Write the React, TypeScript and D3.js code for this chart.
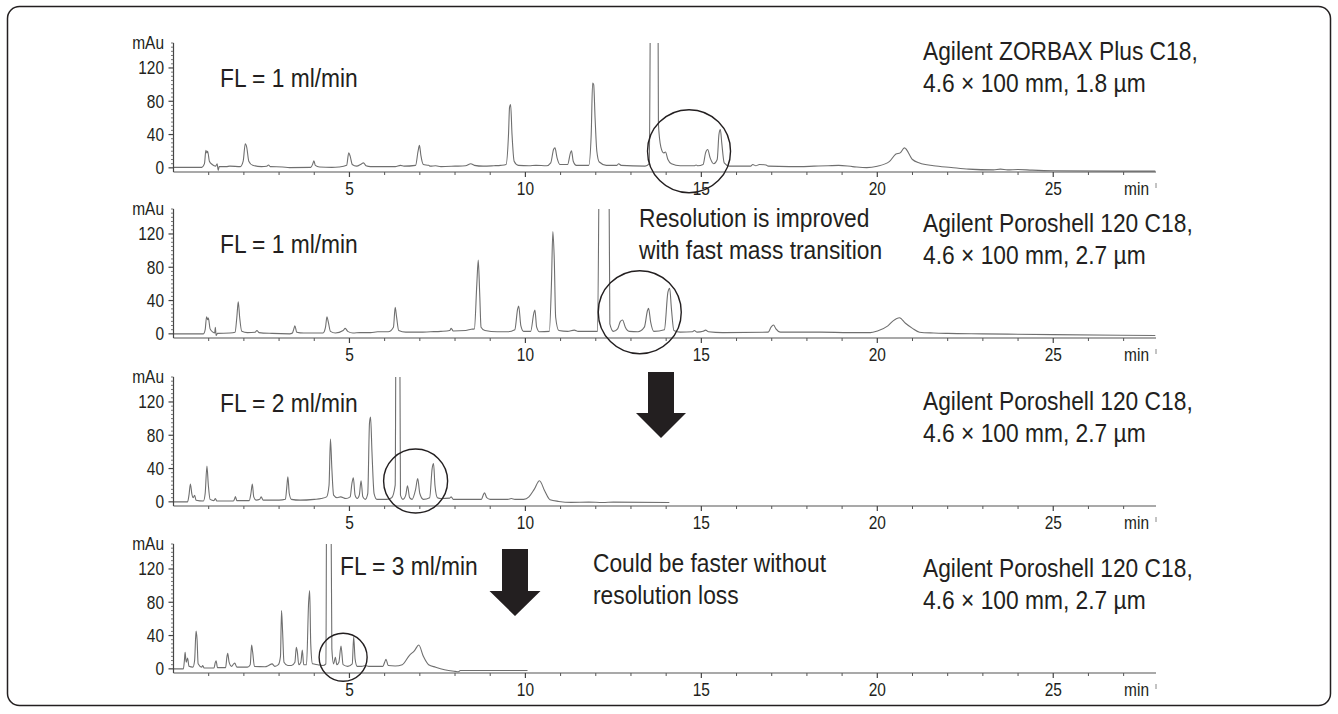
import React from 'react';
import * as d3 from 'd3';

// chromatogram traces, [time (min), signal (mAu)]
const trace1: [number, number][] = [
  [0, 0.5], [0.8, 0.5], [0.88, 5], [0.92, 21], [0.95, 18], [0.97, 20], [1.02, 8], [1.1, 4], [1.2, 2],
  [1.24, 5], [1.27, -3], [1.3, 1.5], [1.5, 1.5], [1.6, 2], [1.9, 1.5], [1.98, 8], [2.04, 29], [2.08, 25],
  [2.14, 8], [2.25, 3], [2.5, 1.5], [2.65, 2], [2.7, 3.5], [2.75, 1.5], [3.1, 1], [3.3, 0.3], [3.9, 0.5],
  [3.96, 5], [3.99, 8.5], [4.03, 3], [4.15, 1], [4.5, 0.5], [4.7, 1], [4.92, 3], [4.98, 18], [5.02, 14],
  [5.08, 4], [5.2, 2], [5.35, 5], [5.4, 6], [5.47, 2.5], [5.6, 1.5], [6.3, 1.5], [6.45, 3], [6.55, 2],
  [6.88, 3], [6.95, 20], [6.99, 27], [7.03, 15], [7.1, 4], [7.25, 3], [7.3, 2], [7.45, 2.5], [7.6, 1.5],
  [8.0, 2], [8.3, 2.5], [8.45, 5], [8.55, 3], [8.8, 2], [9.1, 2.5], [9.3, 3], [9.45, 4], [9.52, 40],
  [9.55, 73], [9.58, 76], [9.62, 40], [9.68, 8], [9.8, 3], [10.1, 2.5], [10.3, 3], [10.6, 2.5], [10.72, 6],
  [10.8, 22], [10.84, 24], [10.9, 12], [10.98, 4], [11.2, 4], [11.28, 18], [11.31, 20.5], [11.36, 8],
  [11.45, 3], [11.8, 3], [11.87, 40], [11.91, 102], [11.94, 100], [11.98, 60], [12.03, 20], [12.1, 7],
  [12.3, 3], [12.6, 3], [12.65, 5], [12.72, 3], [13.4, 2], [13.52, 5], [13.57, 300], [13.76, 300],
  [13.78, 53], [13.85, 25], [13.93, 18], [13.98, 19], [14.05, 10], [14.15, 5], [14.4, 2.5], [14.8, 2.5],
  [14.85, 3.5], [14.9, 2.5], [15.05, 4], [15.12, 18], [15.18, 22], [15.25, 12], [15.35, 5], [15.45, 10],
  [15.5, 40], [15.54, 46], [15.58, 30], [15.65, 6], [15.8, 2], [16.4, 2], [16.46, 4], [16.55, 2.5],
  [16.65, 4], [16.84, 3.5], [16.9, 2], [17.5, 1.5], [17.8, 1.5], [18.2, 2], [18.6, 2.5], [18.9, 3],
  [19.3, 1.5], [19.7, 0.3], [20.0, 2], [20.34, 7.4], [20.53, 16.6], [20.65, 18], [20.77, 24], [21.0, 10],
  [21.2, 5.8], [21.6, 2.6], [22.1, 0.5], [22.6, -1.5], [23.3, -2.5], [23.5, -1.5], [23.7, -2.5], [24.0, -2],
  [24.4, -2.8], [25.0, -3.5], [27.9, -4],
];

const trace2: [number, number][] = [
  [0, 0], [0.85, 0], [0.9, 5], [0.94, 20.6], [0.97, 17], [0.99, 19], [1.04, 6], [1.12, 2], [1.17, 1],
  [1.19, 8], [1.21, -2], [1.25, 0.5], [1.6, 1], [1.75, 2], [1.8, 20], [1.84, 38.6], [1.88, 20], [1.94, 3],
  [2.1, 1.5], [2.32, 2], [2.37, 4], [2.43, 1.5], [2.8, 0.5], [3.3, 0], [3.38, 1], [3.42, 6], [3.45, 9.8],
  [3.5, 2], [3.7, 1], [4.25, 1], [4.32, 8], [4.36, 20.6], [4.4, 14], [4.46, 3], [4.6, 1], [4.82, 4],
  [4.88, 6.6], [4.95, 3], [5.1, 1], [5.3, 1.5], [5.6, 1.5], [5.8, 2.5], [6.1, 2.5], [6.25, 8], [6.3, 31.8],
  [6.34, 20], [6.4, 4], [6.6, 2], [7.0, 2], [7.3, 2.5], [7.6, 3], [7.85, 4], [7.89, 6.6], [7.95, 3.5],
  [8.3, 4], [8.46, 5.5], [8.55, 6], [8.62, 60], [8.66, 88.7], [8.7, 50], [8.74, 8], [8.85, 4], [9.2, 2.5],
  [9.5, 2.5], [9.7, 5], [9.78, 30], [9.81, 33.4], [9.87, 10], [9.95, 3], [10.15, 3], [10.24, 25],
  [10.27, 28.6], [10.32, 8], [10.4, 2.5], [10.68, 3], [10.74, 60], [10.78, 122.8], [10.82, 90], [10.86, 20],
  [10.95, 4], [11.2, 3], [11.39, 4.5], [11.5, 3], [12.05, 3], [12.12, 300], [12.36, 300], [12.4, 12],
  [12.5, 3], [12.62, 6], [12.7, 15], [12.76, 16.6], [12.84, 8], [12.95, 3], [13.2, 2.5], [13.38, 8],
  [13.47, 28], [13.5, 30.6], [13.56, 14], [13.65, 3], [13.95, 5], [14.05, 50], [14.1, 54.7], [14.15, 30],
  [14.22, 4], [14.4, 2], [14.75, 2.5], [14.8, 4], [14.88, 2], [15.05, 3], [15.12, 4.5], [15.2, 2.5],
  [15.6, 1.5], [16.9, 2], [16.98, 8], [17.05, 10.6], [17.12, 6], [17.25, 2], [17.6, 2], [18.4, 2],
  [19.2, 1.5], [19.8, 1.5], [20.0, 3.5], [20.3, 9.5], [20.45, 15.6], [20.63, 19.4], [20.8, 12.7],
  [21.0, 6.6], [21.2, 2], [21.6, 1], [22.0, 0.5], [23.0, 0], [25.0, -1], [27.9, -2],
];

const trace3: [number, number][] = [
  [0, 0], [0.4, 0], [0.44, 8], [0.48, 21.4], [0.52, 10], [0.56, 5], [0.6, 8], [0.64, 2], [0.85, 1],
  [0.9, 10], [0.95, 43], [0.99, 20], [1.04, 3], [1.15, 1.5], [1.19, 4], [1.23, 1], [1.7, 1], [1.74, 4],
  [1.76, 6.5], [1.8, 1.5], [2.15, 1.5], [2.2, 10], [2.24, 21.4], [2.28, 6], [2.35, 2], [2.45, 3],
  [2.49, 6], [2.55, 2], [3.0, 2], [3.18, 3], [3.22, 18], [3.25, 30], [3.29, 10], [3.35, 3], [3.6, 2],
  [4.0, 3], [4.2, 4], [4.35, 6], [4.42, 20], [4.46, 75.5], [4.5, 40], [4.55, 8], [4.65, 5], [4.75, 6],
  [4.9, 4], [5.02, 6], [5.07, 22], [5.11, 29], [5.16, 8], [5.22, 4], [5.28, 8], [5.33, 25.4], [5.38, 6],
  [5.45, 3], [5.52, 10], [5.57, 95], [5.6, 102], [5.64, 60], [5.7, 10], [5.78, 3], [6.05, 3], [6.2, 5],
  [6.3, 20], [6.33, 300], [6.42, 300], [6.45, 8], [6.52, 3], [6.6, 8], [6.65, 19.4], [6.71, 5], [6.78, 3],
  [6.88, 15], [6.94, 28], [7.0, 10], [7.1, 3], [7.28, 5], [7.35, 40], [7.39, 46], [7.43, 20], [7.5, 5],
  [7.6, 4], [7.85, 4.5], [7.89, 6], [7.95, 3], [8.5, 3], [8.75, 3], [8.8, 8], [8.84, 11], [8.9, 5],
  [9.0, 3], [9.5, 3], [9.6, 4], [9.7, 3], [9.95, 3], [10.1, 6], [10.25, 15], [10.4, 25.4], [10.55, 13],
  [10.7, 2.6], [10.95, 0.5], [11.3, -0.6], [11.8, -0.3], [12.2, -0.8], [12.5, -0.3], [14.09, -0.8],
];

const trace4: [number, number][] = [
  [0, 0], [0.28, 0], [0.31, 10], [0.33, 19.8], [0.36, 8], [0.4, 13], [0.44, 3], [0.55, 2], [0.6, 10],
  [0.64, 45.4], [0.67, 35], [0.7, 6], [0.8, 2], [0.83, 4], [0.87, 1], [1.15, 1], [1.19, 8], [1.21, 9.8],
  [1.25, 1.5], [1.48, 1.5], [1.52, 15], [1.54, 18.6], [1.58, 8], [1.65, 3], [1.71, 6], [1.74, 7],
  [1.8, 2], [2.1, 2], [2.18, 5], [2.22, 28.6], [2.25, 20], [2.3, 3], [2.6, 2.6], [2.7, 4], [2.8, 6],
  [2.88, 3], [2.98, 5], [3.04, 15], [3.07, 70], [3.1, 45], [3.14, 8], [3.25, 4], [3.35, 4], [3.45, 8],
  [3.49, 25.8], [3.52, 20], [3.56, 5], [3.62, 8], [3.66, 22.6], [3.7, 5], [3.78, 5], [3.84, 80],
  [3.87, 94], [3.9, 30], [3.95, 6], [4.1, 5], [4.25, 4], [4.33, 6], [4.36, 300], [4.46, 300], [4.5, 24],
  [4.55, 6], [4.6, 14], [4.64, 5], [4.7, 8], [4.76, 27.4], [4.82, 5], [4.95, 3], [5.08, 6], [5.12, 38.6],
  [5.16, 12], [5.22, 3], [5.35, 3], [5.45, 4], [5.55, 3], [5.95, 3], [6.0, 8], [6.04, 11.4], [6.1, 4],
  [6.3, 3.5], [6.5, 5], [6.7, 16], [6.85, 22], [6.97, 28.6], [7.1, 15], [7.25, 5], [7.45, 2], [7.7, -1],
  [8.0, -3], [8.1, -3.5], [8.15, -2], [10.06, -2],
];

const traces = [trace1, trace2, trace3, trace4];

const timeTicks = [5, 10, 15, 20, 25];
const mauTicks = [0, 40, 80, 120];

const flowLabels = ['FL = 1 ml/min', 'FL = 1 ml/min', 'FL = 2 ml/min', 'FL = 3 ml/min'];
const columnLabels = [
  ['Agilent ZORBAX Plus C18,', '4.6 × 100 mm, 1.8 µm'],
  ['Agilent Poroshell 120 C18,', '4.6 × 100 mm, 2.7 µm'],
  ['Agilent Poroshell 120 C18,', '4.6 × 100 mm, 2.7 µm'],
  ['Agilent Poroshell 120 C18,', '4.6 × 100 mm, 2.7 µm'],
];
const noteLabels = [
  null,
  ['Resolution is improved', 'with fast mass transition'],
  null,
  ['Could be faster without', 'resolution loss'],
];

// layout
const W = 1338;
const H = 714;
const axisYs = [172, 338, 506, 673];
const plotH = 129;
const INK = '#231f20';
const FONT = "'Liberation Sans', Arial, sans-serif";
const SX = 0.86; // horizontal squeeze to mimic condensed type

const flowPos = [
  { x: 220, y: 77 }, { x: 220, y: 243 }, { x: 220, y: 402 }, { x: 340, y: 565 },
];
const columnPos = [{ y: 50 }, { y: 222 }, { y: 400 }, { y: 567 }];
const notePos = [null, { x: 639, y: 217 }, null, { x: 593, y: 562 }];
// circles: center in data units, radius in px
const circles = [
  { t: 14.65, v: 20, r: 41.5 },
  { t: 13.25, v: 26, r: 41.5 },
  { t: 6.88, v: 25, r: 32 },
  { t: 4.82, v: 14, r: 24 },
];
const arrows = [
  null, null,
  { cx: 661, top: 372, neck: 413, tip: 438, shaft: 13, head: 25 },
  { cx: 515, top: 549, neck: 591, tip: 616, shaft: 13, head: 25.5 },
];

const x = d3.scaleLinear().domain([0, 27.92]).range([173.5, 1156]);

function CText({ x, y, size, anchor = 'start', children }: any) {
  return (
    <text
      transform={`translate(${x},${y}) scale(${SX},1)`}
      fontSize={size}
      fontFamily={FONT}
      fill={INK}
      textAnchor={anchor}
    >
      {children}
    </text>
  );
}

function Panel({ i }: { i: number }) {
  const base = axisYs[i];
  const y = d3.scaleLinear().domain([-5, 150]).range([base, base - plotH]);
  const line = d3
    .line<[number, number]>()
    .x(d => x(d[0]))
    .y(d => y(d[1]))
    .curve(d3.curveMonotoneX);
  const minorX = d3.range(1, 28).filter(t => t % 5 !== 0);
  const minorY = d3.range(0, 151, 5).filter(v => v % 40 !== 0);
  const x0 = x(0);
  const x1 = x.range()[1];
  const c = circles[i];
  const a = arrows[i];
  const note = noteLabels[i];
  const np = notePos[i];
  const fs = 26.5;
  const ts = 18;
  return (
    <g>
      <defs>
        <clipPath id={`clip${i}`}>
          <rect x={x0} y={y(150)} width={x1 - x0 + 2} height={plotH + 6} />
        </clipPath>
      </defs>
      {/* trace */}
      <path
        d={line(traces[i]) || ''}
        fill="none"
        stroke="#6f6f6f"
        strokeWidth={1.1}
        clipPath={`url(#clip${i})`}
      />
      {/* x axis */}
      <line x1={x0} x2={x1} y1={base} y2={base} stroke="#555" strokeWidth={1.2} />
      {minorX.map(t => (
        <line key={t} x1={x(t)} x2={x(t)} y1={base} y2={base + 3} stroke="#555" strokeWidth={1} />
      ))}
      {timeTicks.map(t => (
        <g key={t}>
          <line x1={x(t)} x2={x(t)} y1={base} y2={base + 5} stroke="#444" strokeWidth={1.2} />
          <CText x={x(t)} y={base + 23} size={ts} anchor="middle">{t}</CText>
        </g>
      ))}
      <CText x={1149} y={base + 23} size={ts} anchor="end">min</CText>
      <line x1={x1} x2={x1} y1={base + 11} y2={base + 16} stroke="#888" strokeWidth={1} />
      {/* y axis */}
      <line x1={x0} x2={x0} y1={y(150)} y2={base} stroke="#444" strokeWidth={1.2} />
      {minorY.map(v => (
        <line key={v} x1={x0 - 2.5} x2={x0} y1={y(v)} y2={y(v)} stroke="#555" strokeWidth={0.8} />
      ))}
      {mauTicks.map(v => (
        <g key={v}>
          <line x1={x0 - 5} x2={x0} y1={y(v)} y2={y(v)} stroke="#444" strokeWidth={1.2} />
          <CText x={164} y={y(v) + 6.5} size={ts} anchor="end">{v}</CText>
        </g>
      ))}
      <CText x={164} y={y(150) + 6} size={ts} anchor="end">mAu</CText>
      {/* annotations */}
      <CText x={flowPos[i].x} y={flowPos[i].y + 9.5} size={fs}>{flowLabels[i]}</CText>
      {columnLabels[i].map((s, k) => (
        <CText key={k} x={923} y={columnPos[i].y + 9.5 + k * 32} size={fs}>{s}</CText>
      ))}
      {note && np &&
        note.map((s, k) => (
          <CText key={k} x={np.x} y={np.y + 9.5 + k * 32} size={fs}>{s}</CText>
        ))}
      <circle cx={x(c.t)} cy={y(c.v)} r={c.r} fill="none" stroke={INK} strokeWidth={1.4} />
      {a && (
        <path
          d={`M${a.cx - a.shaft},${a.top}H${a.cx + a.shaft}V${a.neck}H${a.cx + a.head}L${a.cx},${a.tip}L${a.cx - a.head},${a.neck}H${a.cx - a.shaft}Z`}
          fill={INK}
        />
      )}
    </g>
  );
}

export default function App() {
  return (
    <svg
      width={W}
      height={H}
      style={{ position: 'absolute', left: 0, top: 0, background: '#fff' }}
    >
      <rect x={7.5} y={6.5} width={1323} height={699} rx={12} fill="#fff" stroke={INK} strokeWidth={1.5} />
      {traces.map((_, i) => (
        <Panel key={i} i={i} />
      ))}
    </svg>
  );
}
